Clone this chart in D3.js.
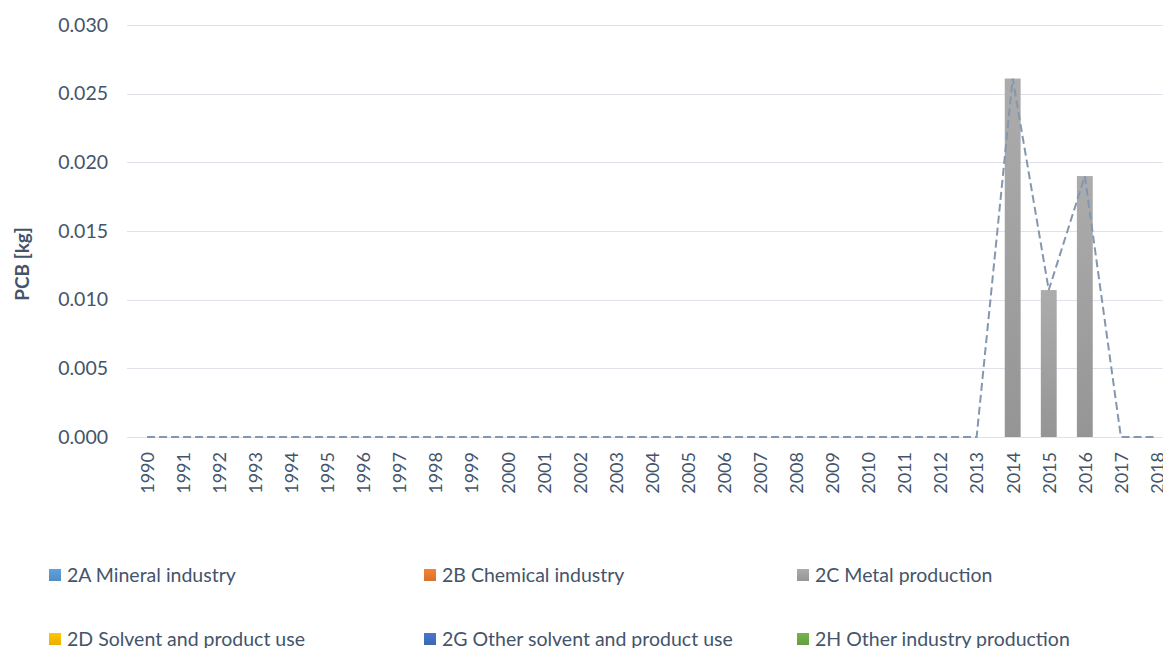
<!DOCTYPE html>
<html>
<head>
<meta charset="utf-8">
<script src="https://cdn.jsdelivr.net/npm/d3@7"></script>
<style>
  html, body { margin: 0; padding: 0; background: #fff; }
  svg { display: block; font-family: Lato, "Open Sans", sans-serif; }
</style>
</head>
<body>
<svg id="chart" width="1163" height="648"></svg>
<script>
// Industrial process PCB emissions by sub-sector, 1990–2018
const years = d3.range(1990, 2019).map(String);

const seriesNames = [
  "2A Mineral industry",
  "2B Chemical industry",
  "2C Metal production",
  "2D Solvent and product use",
  "2G Other solvent and product use",
  "2H Other industry production"
];
const seriesColors = ["#5b9bd5", "#ed7d31", "#a5a5a5", "#ffc000", "#4472c4", "#70ad47"];

const mineral  = [0,0,0,0,0,0,0,0,0,0,0,0,0,0,0,0,0,0,0,0,0,0,0,0,0,0,0,0,0];
const chemical = [0,0,0,0,0,0,0,0,0,0,0,0,0,0,0,0,0,0,0,0,0,0,0,0,0,0,0,0,0];
const metal    = [0,0,0,0,0,0,0,0,0,0,0,0,0,0,0,0,0,0,0,0,0,0,0,0,0.0261,0.0107,0.0190,0,0];
const solvent  = [0,0,0,0,0,0,0,0,0,0,0,0,0,0,0,0,0,0,0,0,0,0,0,0,0,0,0,0,0];
const otherSolvent = [0,0,0,0,0,0,0,0,0,0,0,0,0,0,0,0,0,0,0,0,0,0,0,0,0,0,0,0,0];
const otherIndustry = [0,0,0,0,0,0,0,0,0,0,0,0,0,0,0,0,0,0,0,0,0,0,0,0,0,0,0,0,0];

const yTicks = [0, 0.005, 0.010, 0.015, 0.020, 0.025, 0.030];
const yTitle = "PCB [kg]";

const allSeries = [mineral, chemical, metal, solvent, otherSolvent, otherIndustry];
const rows = years.map((y, i) => {
  const r = { year: y };
  seriesNames.forEach((n, k) => { r[n] = allSeries[k][i]; });
  return r;
});
const totals = years.map((y, i) => d3.sum(allSeries, s => s[i]));

const svg = d3.select("#chart");
const plot = { left: 129, right: 1175, top: 25, bottom: 437 };

const x = d3.scaleBand().domain(years).range([plot.left, plot.right]).paddingInner(0.56).paddingOuter(0.28);
const xc = d3.scalePoint().domain(years).range([plot.left, plot.right]).padding(0.5);
const y = d3.scaleLinear().domain([0, 0.03]).range([plot.bottom, plot.top]);

// gradients for fills
const defs = svg.append("defs");
seriesColors.forEach((c, k) => {
  const g = defs.append("linearGradient").attr("id", "grad" + k)
    .attr("x1", 0).attr("y1", 0).attr("x2", 0).attr("y2", 1);
  g.append("stop").attr("offset", "0%").attr("stop-color", d3.color(c).brighter(0.12));
  g.append("stop").attr("offset", "100%").attr("stop-color", d3.color(c).darker(0.28));
});

// gridlines
svg.append("g").selectAll("line").data(yTicks).join("line")
  .attr("x1", 127).attr("x2", 1163)
  .attr("y1", d => Math.round(y(d)) + 0.5).attr("y2", d => Math.round(y(d)) + 0.5)
  .attr("stroke", "#dfe2e8").attr("stroke-width", 1);

// y axis labels
const yAxis = d3.axisLeft(y).tickValues(yTicks).tickFormat(d3.format(".3f")).tickSize(0).tickPadding(21);
svg.append("g").attr("transform", `translate(${plot.left},0)`).call(yAxis)
  .call(g => g.select(".domain").remove())
  .call(g => g.selectAll("text").attr("fill", "#44546a").attr("font-size", 19.5).attr("font-family", "Lato, sans-serif"));

// y title
svg.append("text")
  .attr("transform", `translate(29,264) rotate(-90)`)
  .attr("text-anchor", "middle")
  .attr("fill", "#44546a").attr("font-size", 19).attr("font-weight", "bold")
  .text(yTitle);

// stacked bars
const stack = d3.stack().keys(seriesNames)(rows);
svg.append("g").selectAll("g").data(stack).join("g")
  .attr("fill", (d, k) => `url(#grad${k})`)
  .selectAll("rect").data(d => d).join("rect")
  .attr("x", d => x(d.data.year))
  .attr("width", x.bandwidth())
  .attr("y", d => y(d[1]))
  .attr("height", d => Math.max(0, y(d[0]) - y(d[1])));

// total line
svg.append("path")
  .datum(totals)
  .attr("fill", "none")
  .attr("stroke", "#8497b0")
  .attr("stroke-width", 2)
  .attr("stroke-dasharray", "8,4")
  .attr("d", d3.line().x((d, i) => xc(years[i])).y(d => y(d)));

// x axis labels
const xAxis = d3.axisBottom(xc).tickSize(0).tickPadding(0);
svg.append("g").attr("transform", `translate(0,${plot.bottom})`).call(xAxis)
  .call(g => g.select(".domain").remove())
  .call(g => g.selectAll("text")
    .attr("fill", "#44546a").attr("font-size", 18).attr("font-family", "Lato, sans-serif")
    .attr("text-anchor", "end").attr("dy", "0.35em")
    .attr("transform", "translate(0,15) rotate(-90)")
    .attr("x", 0).attr("y", 0));

// legend
const legendPos = [
  [49, 575], [424, 575], [797, 575],
  [49, 639], [424, 639], [797, 639]
];
const legend = svg.append("g").selectAll("g").data(seriesNames).join("g")
  .attr("transform", (d, k) => `translate(${legendPos[k][0]},${legendPos[k][1]})`);
legend.append("rect").attr("x", 0).attr("y", -6).attr("width", 12).attr("height", 12)
  .attr("fill", (d, k) => `url(#grad${k})`);
legend.append("text").attr("x", 18).attr("y", 0).attr("dy", "0.35em")
  .attr("fill", "#44546a").attr("font-size", 19.5)
  .text(d => d);
</script>
</body>
</html>
